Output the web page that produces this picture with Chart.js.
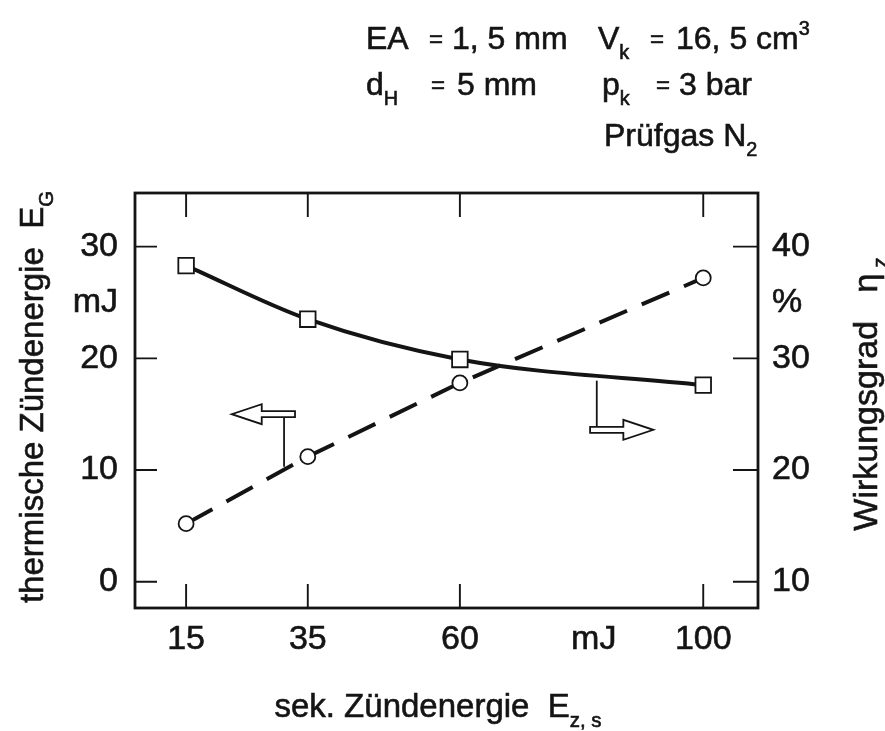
<!DOCTYPE html>
<html>
<head>
<meta charset="utf-8">
<script src="https://cdn.jsdelivr.net/npm/chart.js@4.4.1/dist/chart.umd.min.js"></script>
<style>
  html, body { margin: 0; padding: 0; background: #fff; }
  #wrap { width: 885px; height: 731px; }
</style>
</head>
<body>
<div id="wrap"><canvas id="chart" width="885" height="731"></canvas></div>
<script>
// sek. Zündenergie E_z,s in mJ
const energies = [15, 35, 60, 100];
// thermische Zündenergie E_G in mJ (left axis, circles)
const thermEnergy = [5.2, 11.2, 17.8, 27.2];
// Wirkungsgrad eta_z in % (right axis, squares)
const efficiency = [38.3, 33.5, 29.9, 27.6];

const xTicks = [15, 35, 60, 82, 100];
const xTickLabels = ['15', '35', '60', 'mJ', '100'];
const yTicks = [0, 10, 20, 25, 30];
const yTickLabels = ['0', '10', '20', 'mJ', '30'];
const y2Ticks = [10, 20, 30, 35, 40];
const y2TickLabels = ['10', '20', '30', '%', '40'];

const FONT = "'Liberation Sans', Arial, sans-serif";
const INK = '#141414';

// arrows telling which curve belongs to which axis (data units)
const arrowMarks = {
  left:  { axis: 'y',  tail: 32.9, tip: 22.5, y: 15.0, stemX: 31.1, stemEnd: 10.3 },
  right: { axis: 'y2', tail: 81.4, tip: 91.8, y: 23.6, stemX: 82.5, stemEnd: 28.0 }
};

// text with sub/superscripts: parts = [[text, 'sub'|'sup'|undefined], ...]
function rich(ctx, parts, x, y, size, align) {
  const small = size * 0.62;
  let w = 0;
  parts.forEach(p => {
    ctx.font = (p[1] ? small : size) + 'px ' + FONT;
    w += ctx.measureText(p[0]).width;
  });
  let cx = align === 'center' ? x - w / 2 : x;
  ctx.strokeStyle = INK;
  ctx.lineWidth = 0.6;
  parts.forEach(p => {
    ctx.font = (p[1] ? small : size) + 'px ' + FONT;
    const dy = p[1] === 'sub' ? size * 0.3 : p[1] === 'sup' ? -size * 0.45 : 0;
    ctx.fillText(p[0], cx, y + dy);
    ctx.strokeText(p[0], cx, y + dy);
    cx += ctx.measureText(p[0]).width;
  });
}

function drawArrow(ctx, xTail, xTip, y) {
  const dir = Math.sign(xTip - xTail);
  const head = 30, hh = 10, sh = 3;
  const xb = xTip - dir * head;
  ctx.beginPath();
  ctx.moveTo(xTail, y - sh);
  ctx.lineTo(xb, y - sh);
  ctx.lineTo(xb, y - hh);
  ctx.lineTo(xTip, y);
  ctx.lineTo(xb, y + hh);
  ctx.lineTo(xb, y + sh);
  ctx.lineTo(xTail, y + sh);
  ctx.closePath();
  ctx.fillStyle = '#fff';
  ctx.fill();
  ctx.stroke();
}

const framePlugin = {
  id: 'frame',
  beforeDatasetsDraw(chart) {
    const { ctx, chartArea: a, scales } = chart;
    ctx.save();
    ctx.strokeStyle = INK;
    ctx.lineWidth = 2.8;
    ctx.strokeRect(a.left, a.top, a.right - a.left, a.bottom - a.top);
    ctx.lineWidth = 1.9;
    ctx.beginPath();
    xTicks.forEach((v, i) => {
      if (isNaN(+xTickLabels[i])) return;
      const px = scales.x.getPixelForValue(v);
      ctx.moveTo(px, a.bottom); ctx.lineTo(px, a.bottom - 24);
      ctx.moveTo(px, a.top); ctx.lineTo(px, a.top + 24);
    });
    yTicks.forEach((v, i) => {
      if (isNaN(+yTickLabels[i])) return;
      const py = scales.y.getPixelForValue(v);
      ctx.moveTo(a.left, py); ctx.lineTo(a.left + 22, py);
    });
    y2Ticks.forEach((v, i) => {
      if (isNaN(+y2TickLabels[i])) return;
      const py = scales.y2.getPixelForValue(v);
      ctx.moveTo(a.right, py); ctx.lineTo(a.right - 25, py);
    });
    ctx.stroke();

    // axis assignment arrows
    ctx.lineWidth = 1.8;
    Object.values(arrowMarks).forEach(m => {
      const ys = scales[m.axis];
      const y = ys.getPixelForValue(m.y);
      const sx = scales.x.getPixelForValue(m.stemX);
      ctx.beginPath();
      ctx.moveTo(sx, y);
      ctx.lineTo(sx, ys.getPixelForValue(m.stemEnd));
      ctx.stroke();
      drawArrow(ctx, scales.x.getPixelForValue(m.tail), scales.x.getPixelForValue(m.tip), y);
    });
    ctx.restore();
  },
  afterDraw(chart) {
    const { ctx } = chart;
    ctx.save();
    ctx.fillStyle = INK;
    ctx.textBaseline = 'alphabetic';

    // parameter block
    const s = 32, eq = 24;
    rich(ctx, [['EA']], 366, 49, s);
    rich(ctx, [['=']], 429, 47, eq);
    rich(ctx, [['1, 5 mm']], 452, 49, s);
    rich(ctx, [['V'], ['k', 'sub']], 598, 49, s);
    rich(ctx, [['=']], 650, 47, eq);
    rich(ctx, [['16, 5 cm'], ['3', 'sup']], 676, 49, s);
    rich(ctx, [['d'], ['H', 'sub']], 366, 95, s);
    rich(ctx, [['=']], 431, 93, eq);
    rich(ctx, [['5 mm']], 457, 95, s);
    rich(ctx, [['p'], ['k', 'sub']], 602, 95, s);
    rich(ctx, [['=']], 656, 93, eq);
    rich(ctx, [['3 bar']], 679, 95, s);
    rich(ctx, [['Prüfgas N'], ['2', 'sub']], 604, 146, s);

    // x axis title
    rich(ctx, [['sek. Zündenergie  E'], ['z, s', 'sub']], 438, 717, 33, 'center');

    // left axis title
    ctx.save();
    ctx.translate(43, 397);
    ctx.rotate(-Math.PI / 2);
    rich(ctx, [['thermische Zündenergie  E'], ['G', 'sub']], 0, 0, 33, 'center');
    ctx.restore();

    // right axis title
    ctx.save();
    ctx.translate(877, 394);
    ctx.rotate(-Math.PI / 2);
    rich(ctx, [['Wirkungsgrad   η'], [' z', 'sub']], 0, 0, 34, 'center');
    ctx.restore();

    ctx.restore();
  }
};

const tickFont = { family: FONT, size: 34 };
const tickStyle = { autoSkip: false, color: INK, font: tickFont, textStrokeColor: INK, textStrokeWidth: 0.6 };

new Chart(document.getElementById('chart'), {
  type: 'line',
  data: {
    datasets: [
      {
        label: 'Wirkungsgrad',
        data: energies.map((x, i) => ({ x, y: efficiency[i] })),
        yAxisID: 'y2',
        borderColor: INK,
        borderWidth: 4,
        cubicInterpolationMode: 'monotone',
        pointStyle: 'rect',
        pointRadius: 11,
        pointBackgroundColor: '#fff',
        pointBorderColor: INK,
        pointBorderWidth: 1.8
      },
      {
        label: 'thermische Zündenergie',
        data: energies.map((x, i) => ({ x, y: thermEnergy[i] })),
        yAxisID: 'y',
        borderColor: INK,
        borderWidth: 4,
        borderDash: [30, 16],
        tension: 0,
        pointStyle: 'circle',
        pointRadius: 7.5,
        pointBackgroundColor: '#fff',
        pointBorderColor: INK,
        pointBorderWidth: 1.8
      }
    ]
  },
  options: {
    responsive: false,
    animation: false,
    events: [],
    layout: { padding: { top: 193, left: 0, right: 0, bottom: 0 } },
    plugins: { legend: { display: false }, tooltip: { enabled: false } },
    scales: {
      x: {
        type: 'linear',
        min: 6.6,
        max: 109,
        grid: { display: false, drawTicks: false },
        border: { display: false },
        afterBuildTicks: sc => { sc.ticks = xTicks.map(v => ({ value: v })); },
        afterFit: sc => { sc.height = 123; },
        ticks: { ...tickStyle, maxRotation: 0, padding: 11, callback: (v, i) => xTickLabels[i] }
      },
      y: {
        position: 'left',
        min: -2.35,
        max: 34.8,
        grid: { display: false, drawTicks: false },
        border: { display: false },
        afterBuildTicks: sc => { sc.ticks = yTicks.map(v => ({ value: v })); },
        afterFit: sc => { sc.width = 135; },
        ticks: { ...tickStyle, padding: 17, callback: (v, i) => yTickLabels[i] }
      },
      y2: {
        position: 'right',
        min: 7.65,
        max: 44.8,
        grid: { display: false, drawTicks: false },
        border: { display: false },
        afterBuildTicks: sc => { sc.ticks = y2Ticks.map(v => ({ value: v })); },
        afterFit: sc => { sc.width = 127; },
        ticks: { ...tickStyle, padding: 14, callback: (v, i) => y2TickLabels[i] }
      }
    }
  },
  plugins: [framePlugin]
});
</script>
</body>
</html>
